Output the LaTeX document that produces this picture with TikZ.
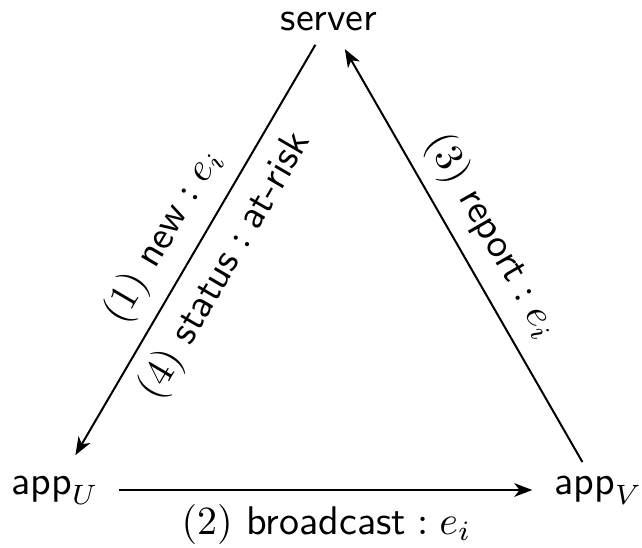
\documentclass[tikz,border=0pt]{standalone}
\usetikzlibrary{arrows.meta}
\begin{document}
\begin{tikzpicture}[x=0.25pt,y=-0.25pt,
  every node/.style={font=\sffamily},
  place/.style={inner sep=0pt,outer sep=0pt},
  conn/.style={line width=0.5pt,-{Stealth[length=4.5pt,width=3.4pt,inset=1.3pt]}},
  lbl/.style={inner sep=3.33pt}]
\useasboundingbox (0,0) rectangle (642,547);
\node[place] (server) at (329,21.5) {server};
\node[place] (appU) at (55,490) {$\textsf{app}_U$};
\node[place] (appV) at (598.5,490) {$\textsf{app}_V$};
\draw[conn,shorten <=4pt,shorten >=6pt] (server) -- (appU)
  node[lbl,pos=0.5,sloped,above] {$(1)\ \textsf{new} : e_i$}
  node[lbl,pos=0.49,sloped,below] {$(4)\ \textsf{status} : \textsf{at-risk}$};
\draw[conn,shorten <=4pt,shorten >=5.25pt] (appV) -- (server)
  node[lbl,pos=0.5,sloped,above] {$(3)\ \textsf{report} : e_i$};
\draw[conn,shorten <=5pt,shorten >=5.5pt] (appU) -- (appV)
  node[lbl,midway,below] {$(2)\ \textsf{broadcast} : e_i$};
\end{tikzpicture}
\end{document}
